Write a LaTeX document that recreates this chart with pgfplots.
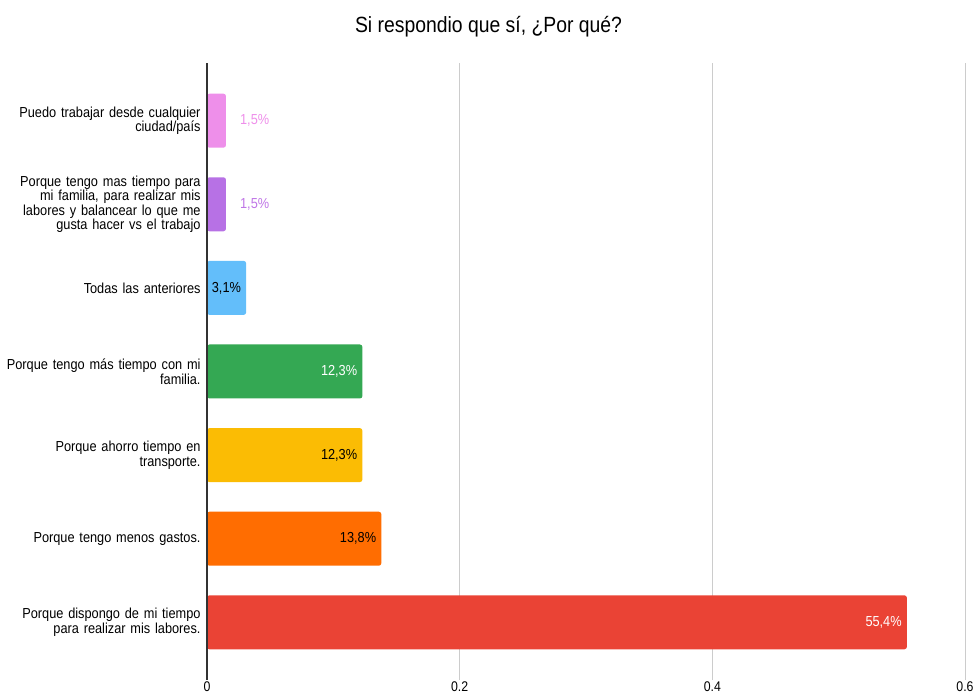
\documentclass[border=0pt]{standalone}
\usepackage{pgfplots}
\pgfplotsset{compat=1.18}
\usepackage{fontspec}
\setmainfont[FakeStretch=0.88]{Liberation Sans}
\definecolor{cpink}{RGB}{238,143,234}
\definecolor{cpurple}{RGB}{183,113,229}
\definecolor{cblue}{RGB}{99,190,250}
\definecolor{cgreen}{RGB}{52,168,83}
\definecolor{cyellow}{RGB}{251,188,4}
\definecolor{corange}{RGB}{255,109,1}
\definecolor{cred}{RGB}{234,67,53}
\definecolor{cgrid}{RGB}{204,204,204}
\definecolor{caxis}{RGB}{51,51,51}
\begin{document}
\begin{tikzpicture}
\path[use as bounding box] (0,0) rectangle (977pt,696pt);
\node[font=\fontsize{22}{24}\selectfont] at (488.5pt,669pt) {Si respondio que sí, ¿Por qué?};
\begin{axis}[
  at={(207pt,16pt)}, anchor=south west,
  scale only axis, width=758pt, height=617pt,
  xmin=0, xmax=0.6, ymin=-0.69, ymax=6.69,
  xtick={0,0.2,0.4,0.6},
  xticklabel style={font=\fontsize{14}{15}\selectfont, inner sep=0pt, yshift=-2pt},
  /pgf/number format/assume math mode=true,
  /pgf/number format/fixed,
  xmajorgrids, grid style={cgrid, line width=1pt},
  ytick={0,1,2,3,4,5,6},
  yticklabels={
    {Porque dispongo de mi tiempo\\para realizar mis labores.},
    {Porque tengo menos gastos.},
    {Porque ahorro tiempo en\\transporte.},
    {Porque tengo más tiempo con mi\\familia.},
    {Todas las anteriores},
    {Porque tengo mas tiempo para\\mi familia, para realizar mis\\labores y balancear lo que me\\gusta hacer vs el trabajo},
    {Puedo trabajar desde cualquier\\ciudad/país}},
  yticklabel style={font=\fontsize{14.5}{14.5}\selectfont, align=right, text width=195pt, inner sep=0pt, xshift=-2pt},
  axis line style={draw=none},
  major tick style={draw=none},
  xbar, bar width=54pt,
  clip=false,
]
\addplot[xbar, bar shift=0pt, fill=cpink, draw=none, rounded corners=2.5pt,
  nodes near coords={{1,5\%}}, nodes near coords style={anchor=west, inner sep=0pt, xshift=14pt, text=cpink, font=\fontsize{14.5}{15}\selectfont, sharp corners}]
  coordinates {(0.015,6)};
\addplot[xbar, bar shift=0pt, fill=cpurple, draw=none, rounded corners=2.5pt,
  nodes near coords={{1,5\%}}, nodes near coords style={anchor=west, inner sep=0pt, xshift=14pt, text=cpurple!85!cpink, font=\fontsize{14.5}{15}\selectfont, sharp corners}]
  coordinates {(0.015,5)};
\addplot[xbar, bar shift=0pt, fill=cblue, draw=none, rounded corners=2.5pt,
  nodes near coords={{3,1\%}}, nodes near coords style={anchor=east, inner sep=0pt, xshift=-5pt, text=black, font=\fontsize{14.5}{15}\selectfont, sharp corners}]
  coordinates {(0.031,4)};
\addplot[xbar, bar shift=0pt, fill=cgreen, draw=none, rounded corners=2.5pt,
  nodes near coords={{12,3\%}}, nodes near coords style={anchor=east, inner sep=0pt, xshift=-5pt, text=white, font=\fontsize{14.5}{15}\selectfont, sharp corners}]
  coordinates {(0.123,3)};
\addplot[xbar, bar shift=0pt, fill=cyellow, draw=none, rounded corners=2.5pt,
  nodes near coords={{12,3\%}}, nodes near coords style={anchor=east, inner sep=0pt, xshift=-5pt, text=black, font=\fontsize{14.5}{15}\selectfont, sharp corners}]
  coordinates {(0.123,2)};
\addplot[xbar, bar shift=0pt, fill=corange, draw=none, rounded corners=2.5pt,
  nodes near coords={{13,8\%}}, nodes near coords style={anchor=east, inner sep=0pt, xshift=-5pt, text=black, font=\fontsize{14.5}{15}\selectfont, sharp corners}]
  coordinates {(0.138,1)};
\addplot[xbar, bar shift=0pt, fill=cred, draw=none, rounded corners=2.5pt,
  nodes near coords={{55,4\%}}, nodes near coords style={anchor=east, inner sep=0pt, xshift=-5pt, text=white, font=\fontsize{14.5}{15}\selectfont, sharp corners}]
  coordinates {(0.554,0)};
\draw[caxis, line width=1.3pt] (axis cs:0,-0.69) -- (axis cs:0,6.69);
\end{axis}
\end{tikzpicture}
\end{document}
